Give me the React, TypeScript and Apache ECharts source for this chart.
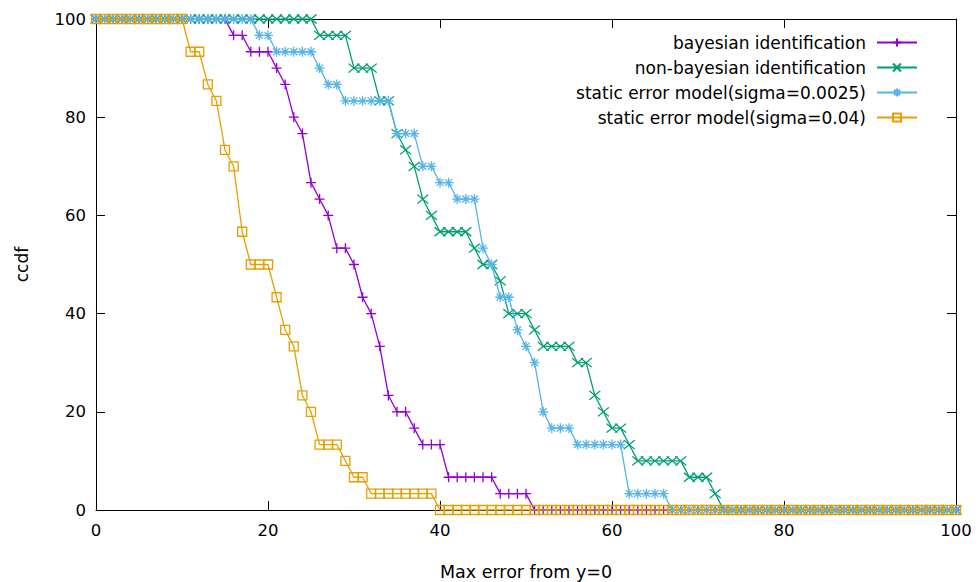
import React, { useEffect, useRef } from "react";
import * as echarts from "echarts";

// ccdf values (%) sampled at x = 0, 1, 2, ..., 100 (index = x)
const bayesian = [
  100, 100, 100, 100, 100, 100, 100, 100, 100, 100,
  100, 100, 100, 100, 100, 100, 96.67, 96.67, 93.33, 93.33,
  93.33, 90, 86.67, 80, 76.67, 66.67, 63.33, 60, 53.33, 53.33,
  50, 43.33, 40, 33.33, 23.33, 20, 20, 16.67, 13.33, 13.33,
  13.33, 6.67, 6.67, 6.67, 6.67, 6.67, 6.67, 3.33, 3.33, 3.33,
  3.33, 0, 0, 0, 0, 0, 0, 0, 0, 0,
  0, 0, 0, 0, 0, 0, 0, 0, 0, 0,
  0, 0, 0, 0, 0, 0, 0, 0, 0, 0,
  0, 0, 0, 0, 0, 0, 0, 0, 0, 0,
  0, 0, 0, 0, 0, 0, 0, 0, 0, 0,
  0,
];

const nonBayesian = [
  100, 100, 100, 100, 100, 100, 100, 100, 100, 100,
  100, 100, 100, 100, 100, 100, 100, 100, 100, 100,
  100, 100, 100, 100, 100, 100, 96.67, 96.67, 96.67, 96.67,
  90, 90, 90, 83.33, 83.33, 76.67, 73.33, 70, 63.33, 60,
  56.67, 56.67, 56.67, 56.67, 53.33, 50, 50, 46.67, 40, 40,
  40, 36.67, 33.33, 33.33, 33.33, 33.33, 30, 30, 23.33, 20,
  16.67, 16.67, 13.33, 10, 10, 10, 10, 10, 10, 6.67,
  6.67, 6.67, 3.33, 0, 0, 0, 0, 0, 0, 0,
  0, 0, 0, 0, 0, 0, 0, 0, 0, 0,
  0, 0, 0, 0, 0, 0, 0, 0, 0, 0,
  0,
];

const staticSmall = [
  100, 100, 100, 100, 100, 100, 100, 100, 100, 100,
  100, 100, 100, 100, 100, 100, 100, 100, 100, 96.67,
  96.67, 93.33, 93.33, 93.33, 93.33, 93.33, 90, 86.67, 86.67, 83.33,
  83.33, 83.33, 83.33, 83.33, 83.33, 76.67, 76.67, 76.67, 70, 70,
  66.67, 66.67, 63.33, 63.33, 63.33, 53.33, 50, 43.33, 43.33, 36.67,
  33.33, 30, 20, 16.67, 16.67, 16.67, 13.33, 13.33, 13.33, 13.33,
  13.33, 13.33, 3.33, 3.33, 3.33, 3.33, 3.33, 0, 0, 0,
  0, 0, 0, 0, 0, 0, 0, 0, 0, 0,
  0, 0, 0, 0, 0, 0, 0, 0, 0, 0,
  0, 0, 0, 0, 0, 0, 0, 0, 0, 0,
  0,
];

const staticLarge = [
  100, 100, 100, 100, 100, 100, 100, 100, 100, 100,
  100, 93.33, 93.33, 86.67, 83.33, 73.33, 70, 56.67, 50, 50,
  50, 43.33, 36.67, 33.33, 23.33, 20, 13.33, 13.33, 13.33, 10,
  6.67, 6.67, 3.33, 3.33, 3.33, 3.33, 3.33, 3.33, 3.33, 3.33,
  0, 0, 0, 0, 0, 0, 0, 0, 0, 0,
  0, 0, 0, 0, 0, 0, 0, 0, 0, 0,
  0, 0, 0, 0, 0, 0, 0, 0, 0, 0,
  0, 0, 0, 0, 0, 0, 0, 0, 0, 0,
  0, 0, 0, 0, 0, 0, 0, 0, 0, 0,
  0, 0, 0, 0, 0, 0, 0, 0, 0, 0,
  0,
];

const seriesNames = [
  "bayesian identification",
  "non-bayesian identification",
  "static error model(sigma=0.0025)",
  "static error model(sigma=0.04)",
];
const seriesValues = [bayesian, nonBayesian, staticSmall, staticLarge];
const seriesColors = ["#9400d3", "#009e73", "#56b4e9", "#e69f00"];
const seriesSymbols = [
  "path://M0,5L10,5M5,0L5,10",
  "path://M0,0L10,10M10,0L0,10",
  "path://M0,5L10,5M5,0L5,10M1.5,1.5L8.5,8.5M8.5,1.5L1.5,8.5",
  "path://M0,0L10,0L10,10L0,10Z",
];
const seriesSymbolSizes = [[10, 10], [11, 9], [10, 10], [9, 9]];

const xTitle = "Max error from y=0";
const yTitle = "ccdf";

const FONT = "DejaVu Sans";

export default function App() {
  const ref = useRef<HTMLDivElement>(null);

  useEffect(() => {
    if (!ref.current) return;
    const chart = echarts.init(ref.current, undefined, { renderer: "svg" });

    const axisCommon = {
      type: "value" as const,
      min: 0,
      max: 100,
      interval: 20,
      axisLine: { show: true, onZero: false, lineStyle: { color: "#000", width: 1 } },
      axisTick: { show: true, inside: true, length: 9, lineStyle: { color: "#000", width: 1 } },
      splitLine: { show: false },
      minorTick: { show: false },
    };

    const series = seriesNames.map((name, k) => ({
      name,
      type: "line" as const,
      xAxisIndex: 0,
      yAxisIndex: 0,
      data: seriesValues[k].map((v, i) => [i, v]),
      symbol: seriesSymbols[k],
      symbolSize: seriesSymbolSizes[k],
      showSymbol: true,
      showAllSymbol: true,
      z: 2 + k,
      color: seriesColors[k],
      lineStyle: { color: seriesColors[k], width: 1.3 },
      itemStyle: {
        color: "rgba(0,0,0,0)",
        borderColor: seriesColors[k],
        borderWidth: 1.3,
      },
      emphasis: { disabled: true },
    }));

    const legendTops = [34, 59, 84, 109];
    const legends = seriesNames.map((name, k) => ({
      data: [name],
      right: 61,
      top: legendTops[k],
      orient: "vertical" as const,
      align: "right" as const,
      padding: 0,
      itemWidth: 40,
      itemHeight: 10,
      itemGap: 0,
      selectedMode: false,
      textStyle: {
        fontFamily: FONT,
        fontSize: 17,
        color: "#000",
        padding: [0, 6, 0, 0],
      },
    }));

    chart.setOption({
      animation: false,
      backgroundColor: "#fff",
      textStyle: { fontFamily: FONT },
      grid: { left: 96, right: 23, top: 19, bottom: 72, outerBoundsMode: "none" },
      legend: legends,
      xAxis: [
        {
          ...axisCommon,
          position: "bottom",
          axisLabel: { color: "#000", fontSize: 16.5, fontFamily: FONT, margin: 12 },
          name: xTitle,
          nameLocation: "middle",
          nameGap: 53,
          nameTextStyle: { color: "#000", fontSize: 17.5, fontFamily: FONT },
        },
        {
          ...axisCommon,
          position: "top",
          axisLabel: { show: false },
        },
      ],
      yAxis: [
        {
          ...axisCommon,
          position: "left",
          axisLabel: { color: "#000", fontSize: 16.5, fontFamily: FONT, margin: 10 },
          name: yTitle,
          nameLocation: "middle",
          nameGap: 66,
          nameRotate: 90,
          nameTextStyle: { color: "#000", fontSize: 17, fontFamily: FONT },
        },
        {
          ...axisCommon,
          position: "right",
          axisLabel: { show: false },
        },
      ],
      series,
    });

    return () => chart.dispose();
  }, []);

  return (
    <div
      ref={ref}
      style={{ position: "fixed", left: 0, top: 0, width: 979, height: 582 }}
    />
  );
}
